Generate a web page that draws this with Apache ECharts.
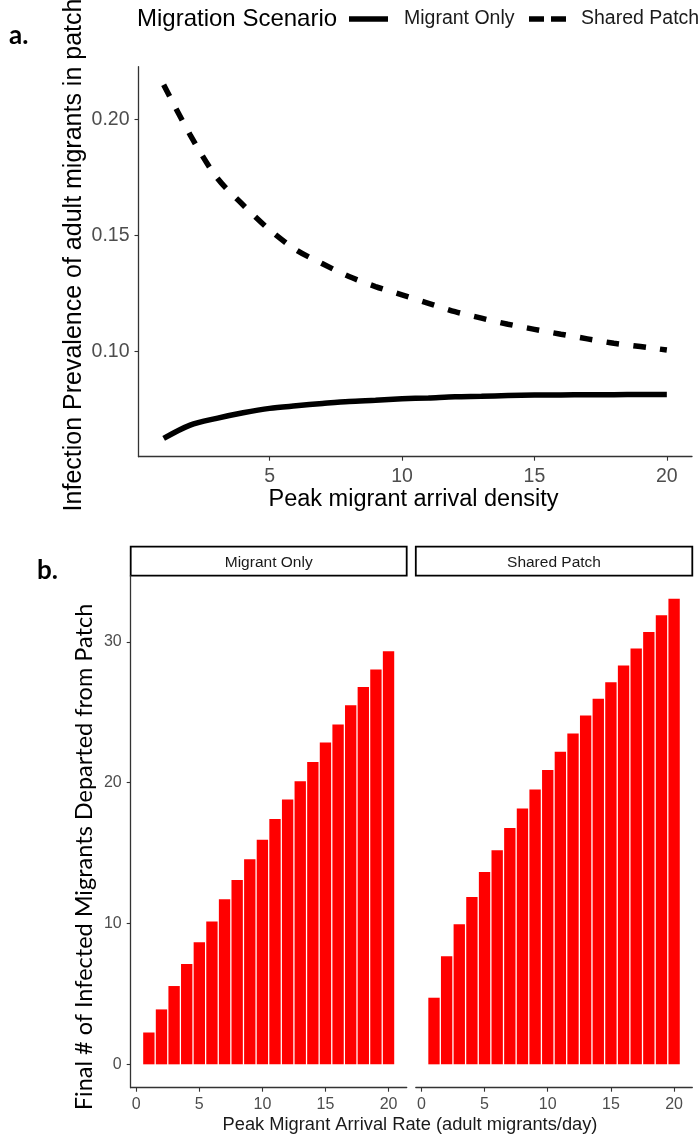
<!DOCTYPE html>
<html>
<head>
<meta charset="utf-8">
<script src="https://cdn.jsdelivr.net/npm/echarts@6/dist/echarts.min.js"></script>
<style>
html,body{margin:0;padding:0;background:#fff;}
#chart{width:699px;height:1139px;}
</style>
</head>
<body>
<div id="chart"></div>
<script>
// ---------- data ----------
const arrivalDensity = [1,2,3,4,5,6,7,8,9,10,11,12,13,14,15,16,17,18,19,20];
const prevMigrantOnly = [0.0627,0.0684,0.0713,0.0737,0.0756,0.0767,0.0777,0.0786,0.0791,0.0797,0.0801,0.0806,0.0808,0.0811,0.0813,0.0814,0.0815,0.0815,0.0816,0.0816];
const prevSharedPatch = [0.2148,0.1933,0.1750,0.1631,0.1524,0.1438,0.1378,0.1323,0.1280,0.1244,0.1208,0.1172,0.1144,0.1118,0.1096,0.1075,0.1055,0.1036,0.1022,0.1007];
const arrivalRate = [1,2,3,4,5,6,7,8,9,10,11,12,13,14,15,16,17,18,19,20];
const departedMigrantOnly = [2.26,3.90,5.56,7.13,8.67,10.15,11.73,13.09,14.56,15.94,17.43,18.81,20.10,21.47,22.85,24.13,25.50,26.80,28.04,29.34];
const departedSharedPatch = [4.73,7.67,9.95,11.88,13.66,15.20,16.79,18.17,19.52,20.90,22.20,23.50,24.78,25.96,27.14,28.32,29.53,30.71,31.89,33.07];
const topXTicks = [5,10,15,20];
const topYTicks = [0.10,0.15,0.20];
const botXTicks = [0,5,10,15,20];
const botYTicks = [0,10,20,30];
const panelNames = ['Migrant Only','Shared Patch'];
const legendTitle = 'Migration Scenario';

// ---------- layout ----------
const FONT = "'Liberation Sans', Arial, sans-serif";
const TICK = '#4D4D4D';
const AX = '#333333';
const topGrid = {left:138.5, top:66.7, width:553.5, height:390};
const p1 = {left:130.7, top:575.7, width:276, height:512};
const p2 = {left:415.8, top:575.7, width:276.5, height:512};
const bxMin = -0.44, bxMax = 21.44;
const barW = 0.9 * p1.width / (bxMax - bxMin);

const chart = echarts.init(document.getElementById('chart'), null, {renderer:'canvas'});

function xAxisCommon(gridIndex, min, max, ticks, fs, margin){
  return {
    type:'value', gridIndex, min, max,
    splitLine:{show:false},
    axisLine:{show:true, onZero:false, lineStyle:{color:AX, width:1.3}},
    axisTick:{show:true, length:4, customValues:ticks, lineStyle:{color:AX, width:1.1}},
    axisLabel:{show:true, customValues:ticks, color:TICK, fontSize:fs, fontFamily:FONT, margin},
  };
}

const option = {
  animation:false,
  backgroundColor:'#ffffff',
  grid:[
    Object.assign({containLabel:false, outerBoundsMode:'none'}, topGrid),
    Object.assign({containLabel:false, outerBoundsMode:'none'}, p1),
    Object.assign({containLabel:false, outerBoundsMode:'none'}, p2)
  ],
  xAxis:[
    xAxisCommon(0, 0.05, 20.95, topXTicks, 19.5, 10),
    xAxisCommon(1, bxMin, bxMax, botXTicks, 16, 9),
    xAxisCommon(2, bxMin, bxMax, botXTicks, 16, 9)
  ],
  yAxis:[
    {type:'value', gridIndex:0, min:0.0548, max:0.2226, splitLine:{show:false},
     axisLine:{show:true, onZero:false, lineStyle:{color:AX, width:1.3}},
     axisTick:{show:true, length:4, customValues:topYTicks, lineStyle:{color:AX, width:1.1}},
     axisLabel:{show:true, customValues:topYTicks, color:TICK, fontSize:19.5, fontFamily:FONT, margin:9,
       formatter:v=>v.toFixed(2)}},
    {type:'value', gridIndex:1, min:-1.66, max:34.7, splitLine:{show:false},
     axisLine:{show:true, onZero:false, lineStyle:{color:AX, width:1.3}},
     axisTick:{show:true, length:4, customValues:botYTicks, lineStyle:{color:AX, width:1.1}},
     axisLabel:{show:true, customValues:botYTicks, color:TICK, fontSize:16, fontFamily:FONT, margin:9}},
    {type:'value', gridIndex:2, min:-1.66, max:34.7, splitLine:{show:false},
     axisLine:{show:false}, axisTick:{show:false}, axisLabel:{show:false}}
  ],
  series:[
    {name:'Shared Patch', type:'line', xAxisIndex:0, yAxisIndex:0, smooth:0.3, showSymbol:false, symbol:'none',
     data:arrivalDensity.map((x,i)=>[x, prevSharedPatch[i]]),
     lineStyle:{color:'#000', width:5.5, type:[13,14], cap:'butt'}},
    {name:'Migrant Only', type:'line', xAxisIndex:0, yAxisIndex:0, smooth:0.3, showSymbol:false, symbol:'none',
     data:arrivalDensity.map((x,i)=>[x, prevMigrantOnly[i]]),
     lineStyle:{color:'#000', width:5.5, type:'solid', cap:'butt'}},
    {name:panelNames[0], type:'bar', xAxisIndex:1, yAxisIndex:1, barWidth:barW,
     data:arrivalRate.map((x,i)=>[x, departedMigrantOnly[i]]),
     itemStyle:{color:'#FF0000'}},
    {name:panelNames[1], type:'bar', xAxisIndex:2, yAxisIndex:2, barWidth:barW,
     data:arrivalRate.map((x,i)=>[x, departedSharedPatch[i]]),
     itemStyle:{color:'#FF0000'}}
  ],
  graphic:[
    // panel labels
    {type:'text', left:9, top:23, style:{text:'a.', font:"bold 26px Lato, 'Open Sans', sans-serif", fill:'#000'}},
    {type:'text', left:37, top:558, style:{text:'b.', font:"bold 26px Lato, 'Open Sans', sans-serif", fill:'#000'}},
    // legend
    {type:'text', x:137, y:19, style:{text:legendTitle, font:'24px '+FONT, fill:'#000', verticalAlign:'middle'}},
    {type:'line', shape:{x1:349, y1:19, x2:388, y2:19}, style:{stroke:'#000', lineWidth:5.5}},
    {type:'text', x:404, y:19, style:{text:panelNames[0], font:'19.5px '+FONT, fill:'#1A1A1A', verticalAlign:'middle'}},
    {type:'line', shape:{x1:529, y1:19, x2:544, y2:19}, style:{stroke:'#000', lineWidth:5.5}},
    {type:'line', shape:{x1:551, y1:19, x2:566, y2:19}, style:{stroke:'#000', lineWidth:5.5}},
    {type:'text', x:581, y:19, style:{text:panelNames[1], font:'19.5px '+FONT, fill:'#1A1A1A', verticalAlign:'middle'}},
    // top axis titles
    {type:'text', x:413.5, y:500, style:{text:'Peak migrant arrival density', font:'23.5px '+FONT, fill:'#000', align:'center', verticalAlign:'middle'}},
    {type:'text', x:74, y:255, rotation:Math.PI/2, style:{text:'Infection Prevalence of adult migrants in patch', font:'25px '+FONT, fill:'#000', align:'center', verticalAlign:'middle'}},
    // strips
    {type:'rect', shape:{x:130.7, y:546.7, width:276, height:29}, style:{fill:'#fff', stroke:'#000', lineWidth:1.8}},
    {type:'rect', shape:{x:415.8, y:546.7, width:276.5, height:29}, style:{fill:'#fff', stroke:'#000', lineWidth:1.8}},
    {type:'text', x:268.7, y:563, style:{text:panelNames[0], font:'15.5px '+FONT, fill:'#1A1A1A', align:'center', verticalAlign:'middle'}},
    {type:'text', x:554, y:563, style:{text:panelNames[1], font:'15.5px '+FONT, fill:'#1A1A1A', align:'center', verticalAlign:'middle'}},
    // bottom axis titles
    {type:'text', x:410, y:1125, style:{text:'Peak Migrant Arrival Rate (adult migrants/day)', font:'18.3px '+FONT, fill:'#1A1A1A', align:'center', verticalAlign:'middle'}},
    {type:'text', x:84, y:857, rotation:Math.PI/2, style:{text:'Final # of Infected Migrants Departed from Patch', font:"23.5px Lato, 'Open Sans', sans-serif", fill:'#000', align:'center', verticalAlign:'middle'}}
  ]
};
chart.setOption(option);
</script>
</body>
</html>
